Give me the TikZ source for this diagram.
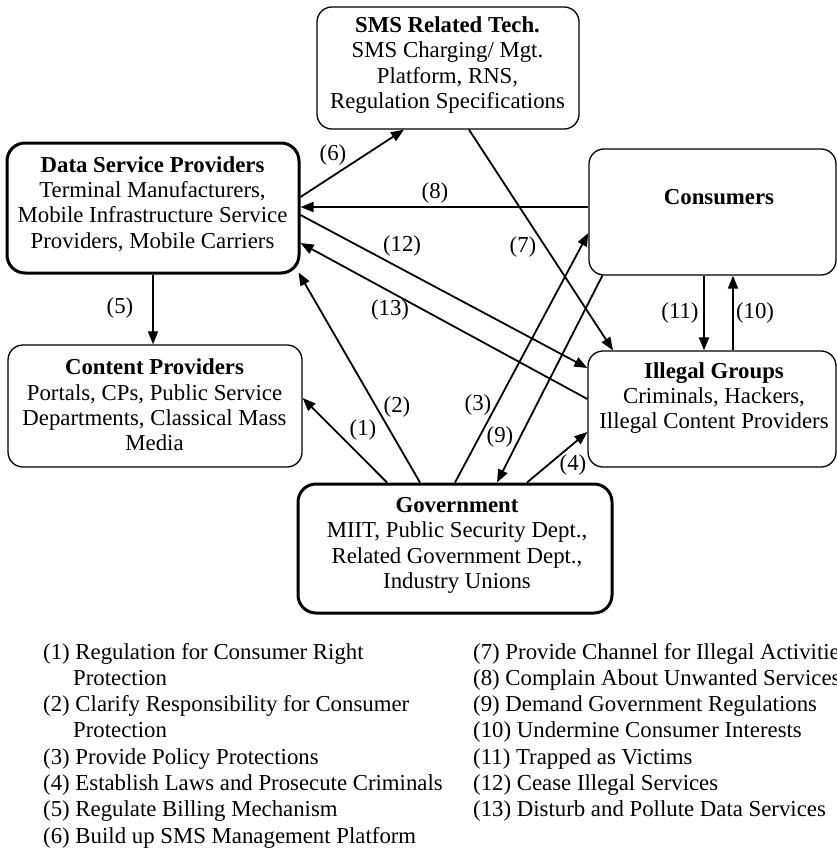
\documentclass[tikz,border=0pt]{standalone}
\usepackage{fontspec}
\setmainfont{Liberation Serif}
\usetikzlibrary{arrows.meta,calc}
\begin{document}
\begin{tikzpicture}[x=1pt,y=-1pt,
  every node/.style={font=\fontsize{22.8}{25.4}\selectfont},
  thinbox/.style={draw, line width=1.3pt, rounded corners=15pt, inner sep=0pt},
  thickbox/.style={draw, line width=3pt, rounded corners=18pt, inner sep=0pt},
  boxtext/.style={align=center, inner sep=0pt},
  conn/.style={line width=1.8pt, -{Triangle[length=13pt,width=10pt]}},
  lab/.style={inner sep=0pt},
  leg/.style={anchor=base west, inner sep=0pt}]
\useasboundingbox (0,0) rectangle (837,848);
\clip (0,0) rectangle (837,848);

% boxes
\node[thinbox, minimum width=262pt, minimum height=122pt] (sms) at (448,68) {};
\node[thickbox, minimum width=292pt, minimum height=130pt] (dsp) at (153,208) {};
\node[thinbox, minimum width=247pt, minimum height=126pt] (cons) at (712.5,212) {};
\node[thinbox, minimum width=248pt, minimum height=116pt] (ig) at (712,409) {};
\node[thinbox, minimum width=294pt, minimum height=122pt] (cp) at (155,406) {};
\node[thickbox, minimum width=314pt, minimum height=129pt] (gov) at (455,548.5) {};

% box texts
\node[boxtext] (smst) at (447.5,65) {\textbf{SMS Related Tech.}\\SMS Charging/ Mgt.\\Platform, RNS,\\Regulation Specifications};
\node[boxtext] (dspt) at (152.5,204) {\textbf{Data Service Providers}\\Terminal Manufacturers,\\Mobile Infrastructure Service\\Providers, Mobile Carriers};
\node[boxtext] (const) at (719,197) {\textbf{Consumers}};
\node[boxtext] (igt) at (714,398) {\textbf{Illegal Groups}\\Criminals, Hackers,\\Illegal Content Providers};
\node[boxtext] (cpt) at (154.5,405) {\textbf{Content Providers}\\Portals, CPs, Public Service\\Departments, Classical Mass\\Media};
\node[boxtext] (govt) at (457,545.5) {\textbf{Government}\\MIIT, Public Security Dept.,\\Related Government Dept.,\\Industry Unions};

% connectors
\draw[conn] (dsp.south) -- (dsp.south |- cp.north);
\draw[conn] ([yshift=11pt]dsp.east) -- ([xshift=-44pt]sms.south);
\draw[conn] ([yshift=5pt]cons.west) -- ([yshift=1pt]dsp.east);
\draw[conn] ([yshift=-7pt]dsp.east) -- ([yshift=41pt]ig.west);
\draw[conn] ([yshift=10pt]ig.west) -- ([yshift=-35pt]dsp.east);
\draw[conn] ([xshift=21pt]sms.south) -- ([xshift=-99pt]ig.north);
\draw[conn] ([xshift=-8.5pt]cons.south) -- ([xshift=-8pt]ig.north);
\draw[conn] ([xshift=21pt]ig.north) -- ([xshift=20.5pt]cons.south);
\draw[conn] ([xshift=-68pt]gov.north) -- ([yshift=8pt]cp.east);
\draw[conn] ([xshift=-35pt]gov.north) -- ([xshift=-2pt,yshift=2pt]dsp.south east);
\draw[conn] (gov.north) -- ([yshift=-21pt]cons.west);
\draw[conn] ([xshift=14pt]cons.south west) -- ([xshift=42pt]gov.north);
\draw[conn] ([xshift=72pt]gov.north) -- ([yshift=-23pt]ig.west);

% connector labels
\node[lab] (n1) at (363,430) {(1)};
\node[lab] (n2) at (397,407) {(2)};
\node[lab] (n3) at (478,405) {(3)};
\node[lab] (n4) at (573,465) {(4)};
\node[lab] (n5) at (120,308) {(5)};
\node[lab] (n6) at (333,155) {(6)};
\node[lab] (n7) at (523,247) {(7)};
\node[lab] (n8) at (435,193) {(8)};
\node[lab] (n9) at (500,437) {(9)};
\node[lab] (n10) at (755,313) {(10)};
\node[lab] (n11) at (680,313) {(11)};
\node[lab] (n12) at (402,246) {(12)};
\node[lab] (n13) at (390,310) {(13)};

% legend
\node[leg] (l1) at (43,659) {(1) Regulation for Consumer Right};
\node[leg] (l2) at (73,685.3) {Protection};
\node[leg] (l3) at (43,711.6) {(2) Clarify Responsibility for Consumer};
\node[leg] (l4) at (73,737.9) {Protection};
\node[leg] (l5) at (43,764.2) {(3) Provide Policy Protections};
\node[leg] (l6) at (43,790.5) {(4) Establish Laws and Prosecute Criminals};
\node[leg] (l7) at (43,816.8) {(5) Regulate Billing Mechanism};
\node[leg] (l8) at (43,843.1) {(6) Build up SMS Management Platform};

\node[leg] (r1) at (473,659) {(7) Provide Channel for Illegal Activities};
\node[leg] (r2) at (473,685.3) {(8) Complain About Unwanted Services};
\node[leg] (r3) at (473,711.6) {(9) Demand Government Regulations};
\node[leg] (r4) at (473,737.9) {(10) Undermine Consumer Interests};
\node[leg] (r5) at (473,764.2) {(11) Trapped as Victims};
\node[leg] (r6) at (473,790.5) {(12) Cease Illegal Services};
\node[leg] (r7) at (473,816.8) {(13) Disturb and Pollute Data Services};
\end{tikzpicture}
\end{document}
